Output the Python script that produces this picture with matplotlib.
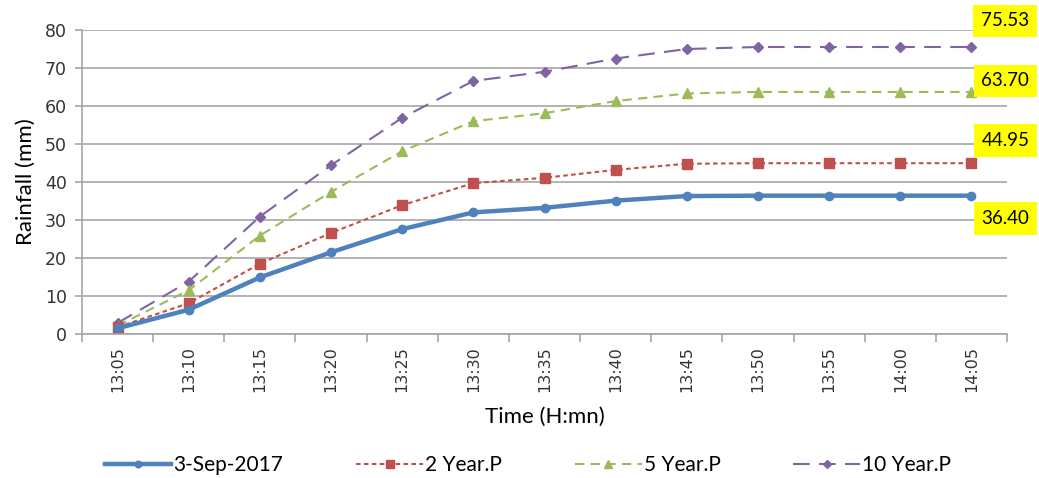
import matplotlib
matplotlib.use("Agg")
import matplotlib.pyplot as plt
import numpy as np

times = ["13:05", "13:10", "13:15", "13:20", "13:25", "13:30", "13:35",
         "13:40", "13:45", "13:50", "13:55", "14:00", "14:05"]
obs_2017 = [1.5, 6.4, 14.9, 21.5, 27.6, 32.0, 33.2, 35.1, 36.3, 36.4, 36.4, 36.4, 36.40]
p2 = [1.8, 8.1, 18.5, 26.6, 33.9, 39.7, 41.1, 43.2, 44.8, 44.95, 44.95, 44.95, 44.95]
p5 = [2.2, 11.5, 25.9, 37.4, 48.1, 56.0, 58.1, 61.3, 63.3, 63.7, 63.7, 63.7, 63.70]
p10 = [2.9, 13.8, 30.9, 44.4, 56.9, 66.6, 69.0, 72.5, 75.0, 75.53, 75.53, 75.53, 75.53]
series_names = ["3-Sep-2017", "2 Year.P", "5 Year.P", "10 Year.P"]
end_labels = ["36.40", "44.95", "63.70", "75.53"]

fig = plt.figure(figsize=(10.39, 4.78), dpi=100)
ax = fig.add_axes([82/1039, 1-334/478, (1007-82)/1039, (334-30)/478])

x = np.arange(len(times))
tick_font = "DejaVu Sans"
txt_font = "Lato"

styles = [
    dict(color="#4F81BD", lw=3.2, ls="-", marker="o", ms=6),
    dict(color="#C0504D", lw=1.5, ls=(0, (2.2, 1.6)), marker="s", ms=6.5),
    dict(color="#9BBB59", lw=1.5, ls=(0, (4.5, 3)), marker="^", ms=7),
    dict(color="#8064A2", lw=1.5, ls=(0, (8, 4.5)), marker="D", ms=5),
]
data = [obs_2017, p2, p5, p10]
offsets = [(34, -23), (34, 23), (34, 11), (34, 26)]
zorders = [5, 4, 3, 2]
for d, st, nm, lab, off, z in zip(data, styles, series_names, end_labels, offsets, zorders):
    ax.plot(x, d, color=st["color"], lw=st["lw"], ls=st["ls"], marker=st["marker"],
            ms=st["ms"], mfc=st["color"], mec=st["color"], label=nm, zorder=z)
    ax.annotate(lab, xy=(x[-1], d[-1]), xytext=off, textcoords="offset pixels",
                ha="center", va="center", fontsize=13.5, family=txt_font, color="#000000",
                bbox=dict(boxstyle="square,pad=0.42", fc="#FFFF00", ec="none"),
                annotation_clip=False)

ax.set_xlim(-0.5, len(times) - 0.5)
ax.set_ylim(0, 80)
ax.set_yticks(np.arange(0, 81, 10))
ax.set_xticks(x)
ax.set_xticklabels(times, rotation=90, family=tick_font, fontsize=11.5, color="#333333")
ax.set_xticks(np.arange(-0.5, len(times), 1), minor=True)
ax.tick_params(axis="x", which="major", length=0, pad=9)
ax.tick_params(axis="x", which="minor", length=6, color="#A6A6A6", width=1.2)
ax.tick_params(axis="y", length=5, color="#A6A6A6", width=1.2, pad=6)
for t in ax.get_yticklabels():
    t.set_family(tick_font)
    t.set_fontsize(12.5)
    t.set_color("#333333")
ax.grid(axis="y", color="#A6A6A6", lw=1.2)
ax.set_axisbelow(True)
for s in ["top", "right"]:
    ax.spines[s].set_visible(False)
for s in ["left", "bottom"]:
    ax.spines[s].set_color("#A6A6A6")
    ax.spines[s].set_linewidth(1.2)

ax.set_ylabel("Rainfall (mm)", family=txt_font, fontsize=16, color="#000000", labelpad=6)
ax.set_xlabel("Time (H:mn)", family=txt_font, fontsize=16, color="#000000", labelpad=10)

fig.legend(loc="center", bbox_to_anchor=(528/1039, 1-465/478), ncol=4, frameon=False,
           prop={"family": txt_font, "size": 15}, handlelength=3.2, columnspacing=3.5,
           handletextpad=0.1, markerscale=0.8)

fig.savefig("out.png", dpi=100)
